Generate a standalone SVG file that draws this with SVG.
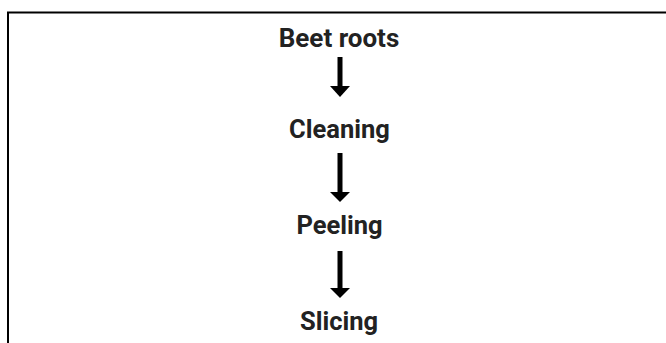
<svg xmlns="http://www.w3.org/2000/svg" width="666" height="343" viewBox="0 0 666 343">
  <style>
    .label { font-family: Roboto, "Liberation Sans", sans-serif; font-weight: bold; font-size: 25.5px; fill: #222; text-anchor: middle; }
    .shaft { stroke: #000; stroke-width: 5; fill: none; }
    .head { fill: #000; }
  </style>
  <rect width="666" height="343" fill="#fff"/>
  <!-- frame, open at right and bottom -->
  <path d="M8 343 V12.5 H666" fill="none" stroke="#000" stroke-width="2"/>
  <g id="connectors">
    <line class="shaft" x1="340" y1="57" x2="340" y2="87"/>
    <polygon class="head" points="330,86 350,86 340,97"/>
    <line class="shaft" x1="340" y1="153" x2="340" y2="193"/>
    <polygon class="head" points="330,192 350,192 340,202"/>
    <line class="shaft" x1="340" y1="251" x2="340" y2="289"/>
    <polygon class="head" points="330,288 350,288 340,298"/>
  </g>
  <g id="beet-roots"><text class="label" x="339" y="46.5" style="font-size:26px">Beet roots</text></g>
  <g id="cleaning"><text class="label" x="339.5" y="138">Cleaning</text></g>
  <g id="peeling"><text class="label" x="339.5" y="234">Peeling</text></g>
  <g id="slicing"><text class="label" x="339" y="329.5">Slicing</text></g>
</svg>
